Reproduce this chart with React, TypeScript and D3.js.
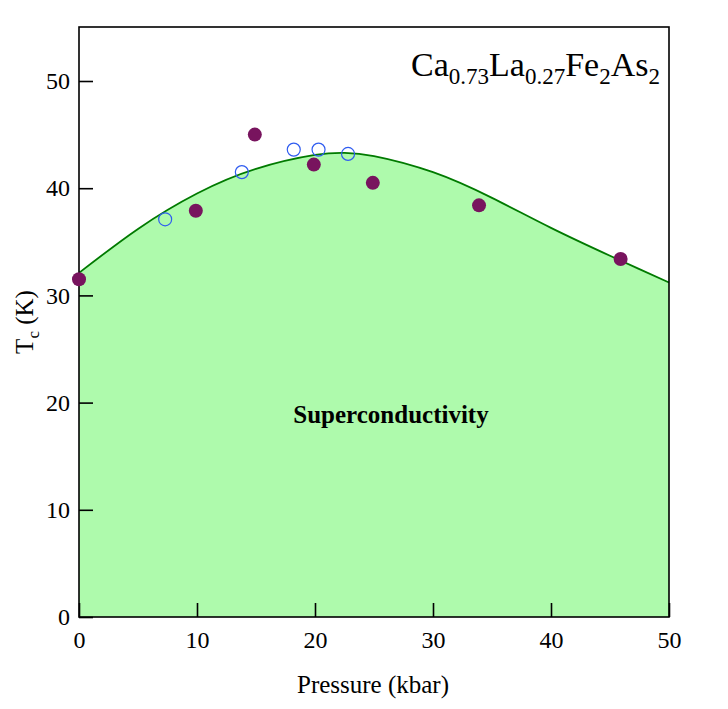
import React from "react";
import * as d3 from "d3";

// measured points (filled)
const filledP = [0, 9.9, 14.9, 19.9, 24.9, 33.9, 45.9];
const filledTc = [31.5, 37.9, 45.0, 42.2, 40.5, 38.4, 33.4];

// measured points (open)
const openP = [7.3, 13.8, 18.2, 20.3, 22.8];
const openTc = [37.1, 41.5, 43.6, 43.6, 43.2];

// guide curve bounding the superconducting region
const curveP = [0, 5, 10, 15, 20, 22.5, 25, 30, 35, 40, 45, 50];
const curveTc = [32.1, 36.2, 39.5, 41.8, 43.1, 43.3, 43.0, 41.5, 39.1, 36.3, 33.7, 31.2];

const xTicks = [0, 10, 20, 30, 40, 50];
const yTicks = [0, 10, 20, 30, 40, 50];

const FONT = "'Liberation Serif', 'Times New Roman', serif";

export default function App() {
  const svgRef = React.useRef<SVGSVGElement>(null);

  React.useEffect(() => {
    const left = 79, right = 669, top = 27, bottom = 617;

    const svg = d3.select(svgRef.current);
    svg.selectAll("*").remove();

    const x = d3.scaleLinear().domain([0, 50]).range([left, right]);
    const y = d3.scaleLinear().domain([0, 50]).range([bottom, 81]);

    const curve = curveP.map((p, i) => [p, curveTc[i]] as [number, number]);

    // shaded area
    const area = d3
      .area<[number, number]>()
      .x((d) => x(d[0]))
      .y0(y(0))
      .y1((d) => y(d[1]))
      .curve(d3.curveNatural);
    svg.append("path").datum(curve).attr("d", area).attr("fill", "#aefaac");

    const line = d3
      .line<[number, number]>()
      .x((d) => x(d[0]))
      .y((d) => y(d[1]))
      .curve(d3.curveNatural);
    svg
      .append("path")
      .datum(curve)
      .attr("d", line)
      .attr("fill", "none")
      .attr("stroke", "#007a00")
      .attr("stroke-width", 1.8);

    // frame
    svg
      .append("rect")
      .attr("x", left)
      .attr("y", top)
      .attr("width", right - left)
      .attr("height", bottom - top)
      .attr("fill", "none")
      .attr("stroke", "black")
      .attr("stroke-width", 1.6);

    // axes with inward ticks
    const xAxis = d3.axisBottom(x).tickValues(xTicks).tickSizeInner(-14).tickSizeOuter(0).tickPadding(14);
    const gx = svg.append("g").attr("transform", `translate(0,${bottom})`).call(xAxis);
    gx.select(".domain").remove();
    gx.attr("font-family", FONT).attr("font-size", 24);
    gx.selectAll("line").attr("stroke-width", 1.6);
    gx.selectAll("text").attr("fill", "black");

    const yAxis = d3.axisLeft(y).tickValues(yTicks).tickSizeInner(-14).tickSizeOuter(0).tickPadding(9);
    const gy = svg.append("g").attr("transform", `translate(${left},0)`).call(yAxis);
    gy.select(".domain").remove();
    gy.attr("font-family", FONT).attr("font-size", 24);
    gy.selectAll("line").attr("stroke-width", 1.6);
    gy.selectAll("text").attr("fill", "black");

    // open points
    svg
      .selectAll(".open")
      .data(openP)
      .enter()
      .append("circle")
      .attr("cx", (d) => x(d))
      .attr("cy", (_, i) => y(openTc[i]))
      .attr("r", 6.5)
      .attr("fill", "none")
      .attr("stroke", "#2f5cf0")
      .attr("stroke-width", 1.2);

    // filled points
    svg
      .selectAll(".filled")
      .data(filledP)
      .enter()
      .append("circle")
      .attr("cx", (d) => x(d))
      .attr("cy", (_, i) => y(filledTc[i]))
      .attr("r", 7)
      .attr("fill", "#78145e");

    // labels
    svg
      .append("text")
      .attr("x", (left + right) / 2 - 1)
      .attr("y", 693)
      .attr("text-anchor", "middle")
      .attr("font-size", 25)
      .attr("font-family", FONT)
      .text("Pressure (kbar)");

    const yl = svg
      .append("text")
      .attr("transform", `translate(33,322) rotate(-90)`)
      .attr("text-anchor", "middle")
      .attr("font-size", 25)
      .attr("font-family", FONT);
    yl.append("tspan").text("T");
    yl.append("tspan").attr("font-size", 17).attr("dy", 6).text("c");
    yl.append("tspan").attr("dy", -6).text(" (K)");

    const title = svg
      .append("text")
      .attr("x", 660)
      .attr("y", 76)
      .attr("text-anchor", "end")
      .attr("font-size", 34)
      .attr("font-family", FONT);
    const parts: [string, boolean][] = [
      ["Ca", false], ["0.73", true], ["La", false], ["0.27", true],
      ["Fe", false], ["2", true], ["As", false], ["2", true],
    ];
    let sub = false;
    parts.forEach(([t, s]) => {
      const dy = s && !sub ? 8 : !s && sub ? -8 : 0;
      title.append("tspan").attr("dy", dy).attr("font-size", s ? 23 : 34).text(t);
      sub = s;
    });

    svg
      .append("text")
      .attr("x", 391)
      .attr("y", 423)
      .attr("text-anchor", "middle")
      .attr("font-size", 25)
      .attr("font-weight", "bold")
      .attr("font-family", FONT)
      .text("Superconductivity");
  }, []);

  return (
    <svg
      ref={svgRef}
      width={728}
      height={709}
      style={{ position: "absolute", left: 0, top: 0, background: "white" }}
    />
  );
}
